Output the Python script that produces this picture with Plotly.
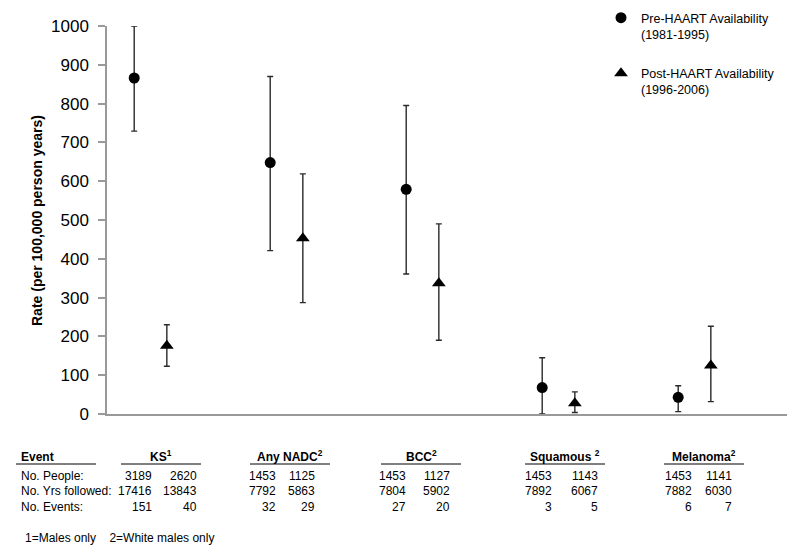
import plotly.graph_objects as go

# ---------------- data ----------------
categories = ["KS", "Any NADC", "BCC", "Squamous ", "Melanoma"]
category_notes = ["1", "2", "2", "2", "2"]

pre_rate = [866, 648, 579, 68, 43]
pre_low = [729, 421, 361, 0, 6]
pre_high = [1000, 870, 795, 145, 73]

post_rate = [176, 453, 337, 28, 125]
post_low = [123, 287, 190, 4, 32]
post_high = [230, 619, 490, 57, 226]

people_pre = [3189, 1453, 1453, 1453, 1453]
people_post = [2620, 1125, 1127, 1143, 1141]
years_pre = [17416, 7792, 7804, 7892, 7882]
years_post = [13843, 5863, 5902, 6067, 6030]
events_pre = [151, 32, 27, 3, 6]
events_post = [40, 29, 20, 5, 7]

row_labels = ["No. People:", "No. Yrs followed:", "No. Events:"]
y_ticks = [0, 100, 200, 300, 400, 500, 600, 700, 800, 900, 1000]
pre_name = "Pre-HAART Availability<br>(1981-1995)"
post_name = "Post-HAART Availability<br>(1996-2006)"
y_title = "Rate (per 100,000 person years)"
footnote = "1=Males only&nbsp;&nbsp;&nbsp; 2=White males only"

# ---------------- layout geometry (screen pixels) ----------------
OFF = 8                      # page body margin offset
W, H = 800 - OFF, 558 - OFF
PLOT_L, PLOT_R, PLOT_T, PLOT_B = 107, 787, 26, 414   # screen coordinates
L = PLOT_L - OFF
T = PLOT_T - OFF
R = W - (PLOT_R - OFF)
B = H - (PLOT_B - OFF)
PW, PH = PLOT_R - PLOT_L, PLOT_B - PLOT_T
PRE_OFF, POST_OFF = 0.2, 0.44

def px_x(px):
    return (px - PLOT_L) / PW

def px_y(py):
    return (PLOT_B - py) / PH

FONT = "Liberation Sans, Arial, sans-serif"
TS = 12  # table font size

fig = go.Figure()

x_pre = [i + PRE_OFF for i in range(len(categories))]
x_post = [i + POST_OFF for i in range(len(categories))]

fig.add_trace(go.Scatter(
    x=x_pre, y=pre_rate, mode="markers", name=pre_name, legendgroup="a",
    marker=dict(symbol="circle", size=11, color="black"),
    error_y=dict(type="data", symmetric=False,
                 array=[h - r for h, r in zip(pre_high, pre_rate)],
                 arrayminus=[r - l for r, l in zip(pre_rate, pre_low)],
                 color="#2a2a2a", thickness=1.4, width=3),
    cliponaxis=False,
))
fig.add_trace(go.Scatter(
    x=x_post, y=post_rate, mode="markers", name=post_name, legendgroup="b",
    marker=dict(symbol="triangle-up", size=12, color="black"),
    error_y=dict(type="data", symmetric=False,
                 array=[h - r for h, r in zip(post_high, post_rate)],
                 arrayminus=[r - l for r, l in zip(post_rate, post_low)],
                 color="#2a2a2a", thickness=1.4, width=3),
    cliponaxis=False,
))

annotations = []
shapes = []

# y-axis title
annotations.append(dict(text="<b>" + y_title + "</b>", xref="paper", yref="paper",
                        x=px_x(37), y=px_y(221), textangle=-90, showarrow=False,
                        xanchor="center", yanchor="middle",
                        font=dict(size=14, color="black", family=FONT)))

# table geometry (screen pixel positions)
header_y = 457
underline_y = 464
row_y = [476, 491, 507]
header_cx = [161, 290, 421, 565, 704]
col1_right = [154, 278, 408, 554, 694]
col2_right = [199, 317, 452, 600, 734]
underline_half = 40

annotations.append(dict(text="<b>Event</b>", xref="paper", yref="paper",
                        x=px_x(19), y=px_y(header_y), xanchor="left", yanchor="middle",
                        showarrow=False, font=dict(size=TS, color="black", family=FONT)))
shapes.append(dict(type="line", xref="paper", yref="paper",
                   x0=px_x(16), x1=px_x(96), y0=px_y(underline_y), y1=px_y(underline_y),
                   line=dict(color="black", width=1)))

for r, lab in enumerate(row_labels):
    annotations.append(dict(text=lab, xref="paper", yref="paper",
                            x=px_x(19), y=px_y(row_y[r]), xanchor="left", yanchor="middle",
                            showarrow=False, font=dict(size=TS, color="black", family=FONT)))

table_rows = [(people_pre, people_post), (years_pre, years_post), (events_pre, events_post)]
for i, cat in enumerate(categories):
    annotations.append(dict(text="<b>" + cat + "<sup>" + category_notes[i] + "</sup></b>",
                            xref="paper", yref="paper",
                            x=px_x(header_cx[i]), y=px_y(header_y - 1), xanchor="center", yanchor="middle",
                            showarrow=False, font=dict(size=TS, color="black", family=FONT)))
    shapes.append(dict(type="line", xref="paper", yref="paper",
                       x0=px_x(header_cx[i] - underline_half), x1=px_x(header_cx[i] + underline_half),
                       y0=px_y(underline_y), y1=px_y(underline_y),
                       line=dict(color="black", width=1)))
    for r, (a, b) in enumerate(table_rows):
        annotations.append(dict(text=str(a[i]), xref="paper", yref="paper",
                                x=px_x(col1_right[i]), y=px_y(row_y[r]), xanchor="right", yanchor="middle",
                                showarrow=False, font=dict(size=TS, color="black", family=FONT)))
        annotations.append(dict(text=str(b[i]), xref="paper", yref="paper",
                                x=px_x(col2_right[i]), y=px_y(row_y[r]), xanchor="right", yanchor="middle",
                                showarrow=False, font=dict(size=TS, color="black", family=FONT)))

annotations.append(dict(text=footnote, xref="paper", yref="paper",
                        x=px_x(23), y=px_y(538), xanchor="left", yanchor="middle",
                        showarrow=False, font=dict(size=TS, color="black", family=FONT)))

fig.update_layout(
    width=W, height=H,
    margin=dict(l=L, r=R, t=T, b=B, pad=0, autoexpand=False),
    plot_bgcolor="white", paper_bgcolor="white",
    font=dict(family=FONT, color="black"),
    showlegend=True,
    legend=dict(x=px_x(601), y=px_y(3), xanchor="left", yanchor="top",
                font=dict(size=12.5, color="black", family=FONT),
                tracegroupgap=20, valign="top", bgcolor="rgba(0,0,0,0)",
                itemwidth=30),
    xaxis=dict(range=[0, len(categories)], showgrid=False, zeroline=False,
               showticklabels=False, ticks="", showline=True, linecolor="#999999",
               linewidth=1.5, fixedrange=True, automargin=False),
    yaxis=dict(range=[0, 1000], tickvals=y_ticks, showgrid=False, zeroline=False,
               showline=True, linecolor="#999999", linewidth=1.5,
               ticks="outside", ticklen=7, tickcolor="#999999", tickwidth=1.5,
               tickfont=dict(size=17, color="black", family=FONT),
               ticklabelstandoff=6, fixedrange=True, automargin=False),
    annotations=annotations,
    shapes=shapes,
)

fig.write_html("out.html")
